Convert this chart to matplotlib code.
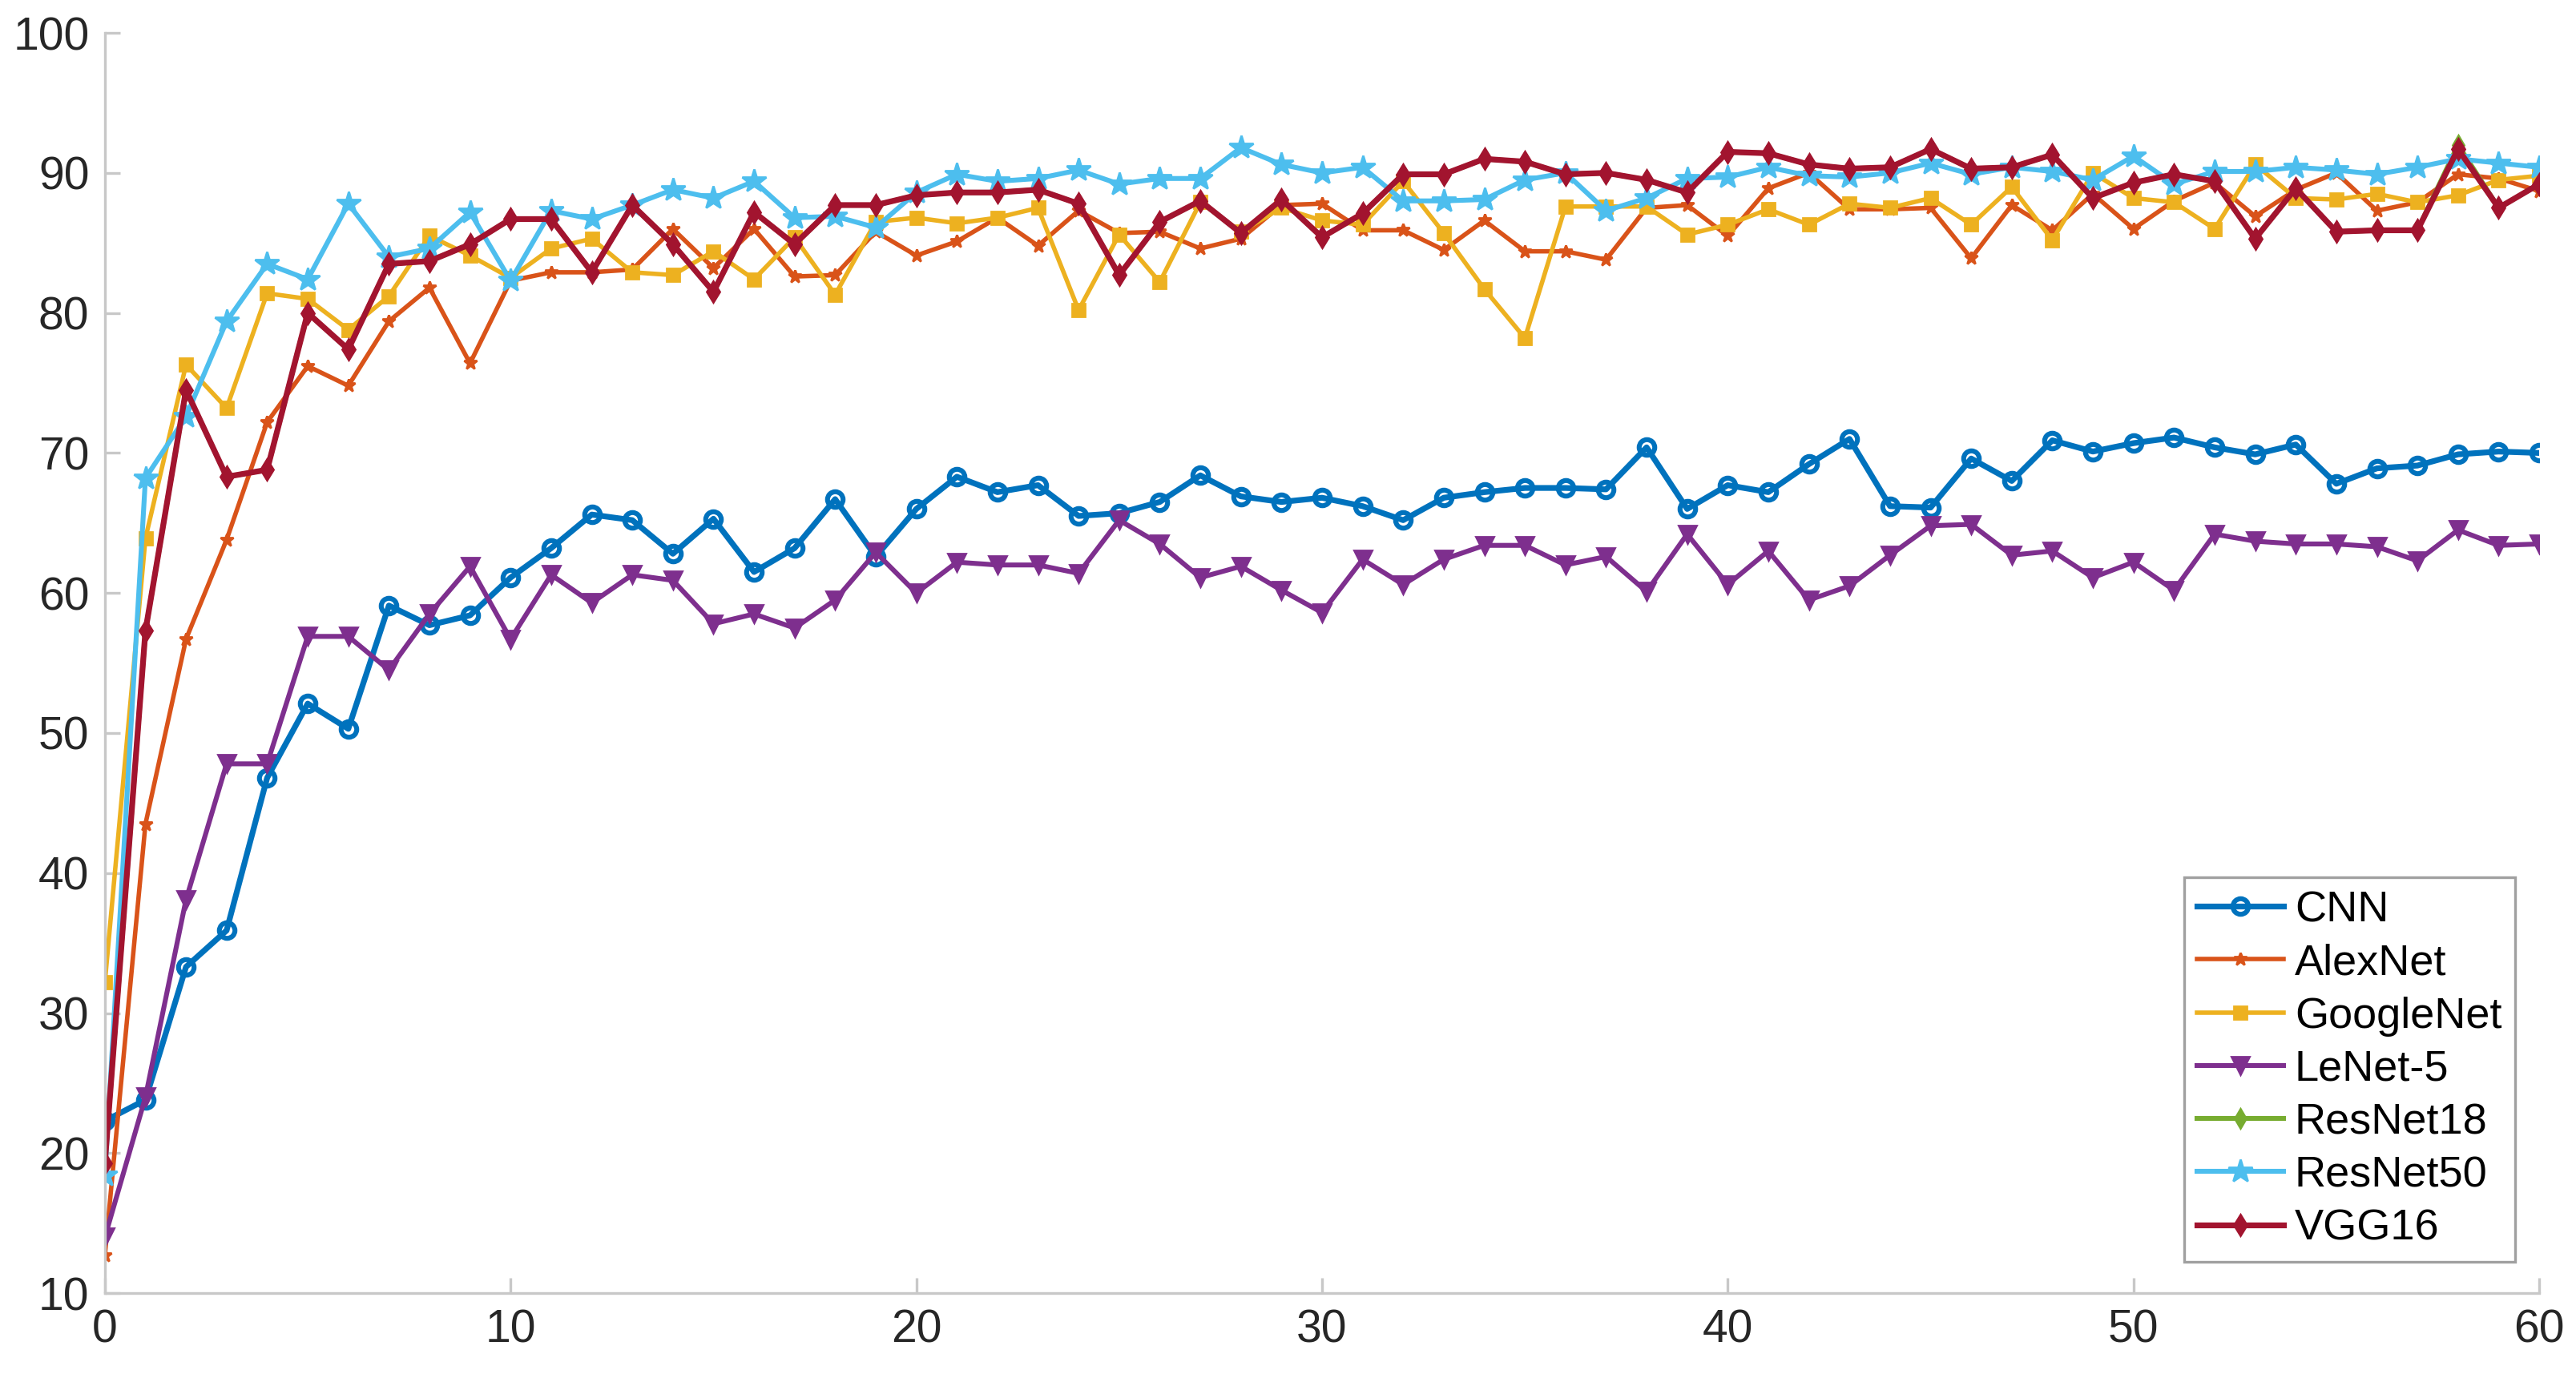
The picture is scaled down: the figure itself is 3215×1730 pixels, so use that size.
import matplotlib.pyplot as plt

plt.rcParams['font.family'] = ['Liberation Sans', 'DejaVu Sans']

epochs = list(range(61))

cnn = [22.3, 23.8, 33.3, 35.9, 46.8, 52.1, 50.3, 59.1, 57.7, 58.4,
       61.1, 63.2, 65.6, 65.2, 62.8, 65.3, 61.5, 63.2, 66.7, 62.6,
       66.0, 68.3, 67.2, 67.7, 65.5, 65.7, 66.5, 68.4, 66.9, 66.5,
       66.8, 66.2, 65.2, 66.8, 67.2, 67.5, 67.5, 67.4, 70.4, 66.0,
       67.7, 67.2, 69.2, 71.0, 66.2, 66.1, 69.6, 68.0, 70.9, 70.1,
       70.7, 71.1, 70.4, 69.9, 70.6, 67.8, 68.9, 69.1, 69.9, 70.1, 70.0]

alexnet = [12.7, 43.5, 56.7, 63.8, 72.2, 76.2, 74.8, 79.4, 81.8, 76.4,
           82.3, 82.9, 82.9, 83.1, 86.0, 83.2, 86.0, 82.6, 82.7, 85.8,
           84.1, 85.1, 86.8, 84.8, 87.3, 85.7, 85.8, 84.6, 85.3, 87.7,
           87.8, 85.9, 85.9, 84.5, 86.6, 84.4, 84.4, 83.8, 87.5, 87.7,
           85.5, 88.9, 90.0, 87.4, 87.4, 87.5, 83.9, 87.7, 85.9, 88.5,
           86.0, 88.0, 89.3, 86.9, 88.8, 90.0, 87.3, 87.9, 89.9, 89.6, 88.7]

googlenet = [32.2, 63.9, 76.3, 73.2, 81.4, 81.0, 78.8, 81.2, 85.5, 84.1,
             82.5, 84.6, 85.3, 82.9, 82.7, 84.4, 82.4, 85.4, 81.3, 86.5,
             86.8, 86.4, 86.8, 87.5, 80.2, 85.6, 82.2, 87.9, 85.8, 87.5,
             86.6, 86.3, 89.4, 85.7, 81.7, 78.2, 87.6, 87.6, 87.6, 85.6,
             86.3, 87.4, 86.3, 87.8, 87.5, 88.2, 86.3, 89.0, 85.2, 90.0,
             88.2, 87.9, 86.0, 90.6, 88.2, 88.1, 88.5, 87.9, 88.4, 89.5, 89.8]

lenet5 = [14.0, 24.0, 38.1, 47.8, 47.8, 56.9, 56.9, 54.5, 58.5, 61.9,
          56.7, 61.3, 59.3, 61.3, 60.9, 57.8, 58.5, 57.5, 59.5, 62.9,
          60.0, 62.2, 62.0, 62.0, 61.4, 65.2, 63.5, 61.1, 61.9, 60.2,
          58.6, 62.4, 60.6, 62.4, 63.4, 63.4, 62.0, 62.6, 60.1, 64.2,
          60.6, 63.0, 59.5, 60.5, 62.7, 64.8, 64.9, 62.7, 63.0, 61.1,
          62.2, 60.2, 64.2, 63.7, 63.5, 63.5, 63.3, 62.3, 64.5, 63.4, 63.5]

resnet18 = [19.3, 57.3, 74.5, 68.3, 68.8, 80.0, 77.4, 83.5, 83.7, 84.9,
            86.7, 86.7, 82.9, 87.7, 84.9, 81.5, 87.2, 84.9, 87.7, 87.7,
            88.4, 88.6, 88.6, 88.8, 87.8, 82.7, 86.5, 88.0, 85.7, 88.1,
            85.4, 87.1, 89.9, 89.9, 91.0, 90.8, 89.9, 90.0, 89.5, 88.6,
            91.5, 91.4, 90.6, 90.3, 90.4, 91.7, 90.3, 90.4, 91.3, 88.2,
            89.3, 89.9, 89.4, 85.3, 88.9, 85.8, 85.9, 85.9, 92.0, 87.5, 89.2]

resnet50 = [18.4, 68.2, 72.6, 79.4, 83.5, 82.4, 87.8, 84.0, 84.6, 87.2,
            82.3, 87.3, 86.7, 87.7, 88.8, 88.2, 89.4, 86.8, 86.9, 86.1,
            88.6, 89.9, 89.4, 89.6, 90.2, 89.2, 89.6, 89.6, 91.8, 90.6,
            90.0, 90.4, 88.0, 88.0, 88.1, 89.5, 90.0, 87.3, 88.2, 89.6,
            89.7, 90.4, 89.8, 89.7, 90.0, 90.7, 89.9, 90.4, 90.1, 89.5,
            91.2, 89.2, 90.1, 90.1, 90.4, 90.2, 89.9, 90.4, 91.0, 90.7, 90.4]

vgg16 = [19.3, 57.3, 74.5, 68.3, 68.8, 80.0, 77.4, 83.5, 83.7, 84.9,
         86.7, 86.7, 82.9, 87.7, 84.9, 81.5, 87.2, 84.9, 87.7, 87.7,
         88.4, 88.6, 88.6, 88.8, 87.8, 82.7, 86.5, 88.0, 85.7, 88.1,
         85.4, 87.1, 89.9, 89.9, 91.0, 90.8, 89.9, 90.0, 89.5, 88.6,
         91.5, 91.4, 90.6, 90.3, 90.4, 91.7, 90.3, 90.4, 91.3, 88.2,
         89.3, 89.9, 89.4, 85.3, 88.9, 85.8, 85.9, 85.9, 91.7, 87.5, 89.2]

fig = plt.figure(figsize=(16.08, 8.65), dpi=200)
ax = fig.add_axes([0.0407, 0.067, 0.9447, 0.9093])

# matlab default colour order
ax.plot(epochs, cnn, color='#0072BD', lw=2.6, marker='o', ms=7, mfc='none', mew=2.2, label='CNN')
ax.plot(epochs, alexnet, color='#D95319', lw=2.0, marker='*', ms=6, label='AlexNet')
ax.plot(epochs, googlenet, color='#EDB120', lw=2.0, marker='s', ms=5.5, label='GoogleNet')
ax.plot(epochs, lenet5, color='#7E2F8E', lw=2.2, marker='v', ms=8, label='LeNet-5')
ax.plot(epochs, resnet18, color='#77AC30', lw=2.2, marker='d', ms=6, label='ResNet18')
ax.plot(epochs, resnet50, color='#4DBEEE', lw=2.2, marker='*', ms=11, label='ResNet50')
ax.plot(epochs, vgg16, color='#A2142F', lw=2.6, marker='d', ms=6.5, label='VGG16')

ax.set_xlim(0, 60)
ax.set_ylim(10, 100)
ax.set_xticks(range(0, 61, 10))
ax.set_yticks(range(10, 101, 10))

for s in ['top', 'right']:
    ax.spines[s].set_visible(False)
for s in ['left', 'bottom']:
    ax.spines[s].set_color('#c8c8c8')
    ax.spines[s].set_linewidth(1.2)
ax.tick_params(direction='in', length=7, width=1.2, color='#c8c8c8',
               labelsize=20.5, labelcolor='#262626', pad=7)

leg = ax.legend(loc='lower right', bbox_to_anchor=(0.99, 0.025), borderaxespad=0,
                fontsize=19.5, fancybox=False, edgecolor='#a0a0a0', framealpha=1,
                handlelength=2.0, labelspacing=0.3, handletextpad=0.25, borderpad=0.3)
leg.get_frame().set_linewidth(1.2)

plt.savefig('out.png', dpi=200)
